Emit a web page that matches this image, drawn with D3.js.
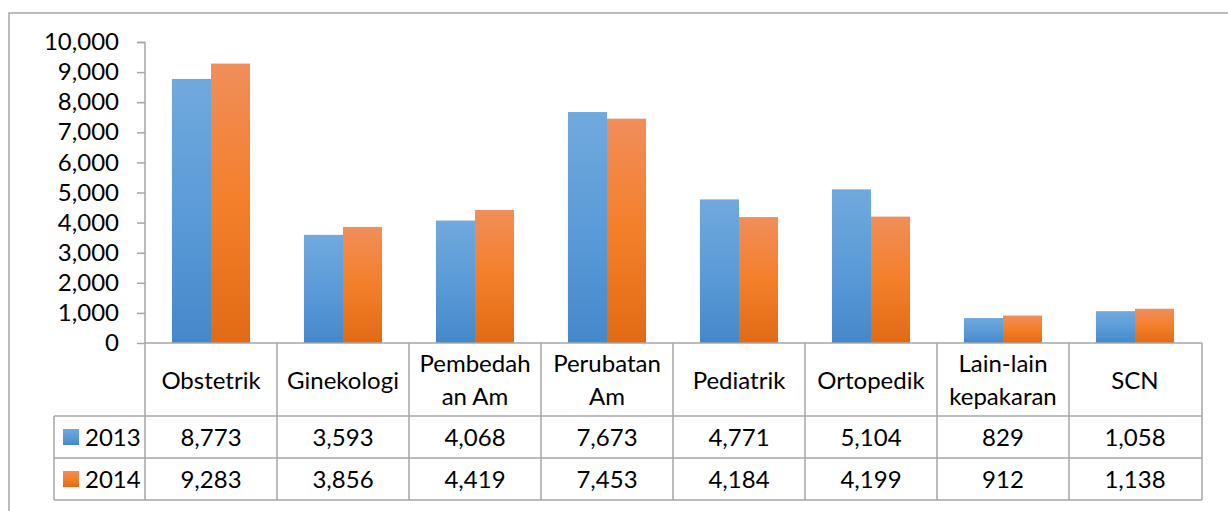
<!DOCTYPE html>
<html><head><meta charset="utf-8">
<script src="https://cdn.jsdelivr.net/npm/d3@7"></script>
<style>
html,body{margin:0;padding:0;background:#fff;}
svg{display:block;}
text{font-family:Lato,"Open Sans",sans-serif;fill:#000;}
</style></head>
<body>
<svg id="c" width="1228" height="511"></svg>
<script>
const categories = ["Obstetrik","Ginekologi","Pembedah an Am","Perubatan Am","Pediatrik","Ortopedik","Lain-lain kepakaran","SCN"];
const categoryLines = [["Obstetrik"],["Ginekologi"],["Pembedah","an Am"],["Perubatan","Am"],["Pediatrik"],["Ortopedik"],["Lain-lain","kepakaran"],["SCN"]];
const seriesNames = ["2013","2014"];
const values2013 = [8773,3593,4068,7673,4771,5104,829,1058];
const values2014 = [9283,3856,4419,7453,4184,4199,912,1138];
const yTicks = [0,1000,2000,3000,4000,5000,6000,7000,8000,9000,10000];

const svg = d3.select("#c");
const grid = "#a6a6a6";
const FS = 24;

// outer frame
svg.append("rect").attr("x",9).attr("y",13).attr("width",1240).attr("height",530)
  .attr("fill","none").attr("stroke",grid).attr("stroke-width",1.5);

const defs = svg.append("defs");
const grads = [["g2013","#71a9dd","#5b9bd8","#4588ca"],["g2014","#f08e5a","#f47f2a","#e26a14"]];
grads.forEach(([id,a,b,c])=>{
  const g = defs.append("linearGradient").attr("id",id).attr("x1",0).attr("y1",0).attr("x2",0).attr("y2",1);
  g.append("stop").attr("offset","0%").attr("stop-color",a);
  g.append("stop").attr("offset","50%").attr("stop-color",b);
  g.append("stop").attr("offset","100%").attr("stop-color",c);
});

const x = d3.scaleBand().domain(categories).range([145,1201]).paddingInner(0).paddingOuter(0);
const x1 = d3.scaleBand().domain(seriesNames).range([0,x.bandwidth()]).paddingInner(0).paddingOuter(0.69);
const y = d3.scaleLinear().domain([0,10000]).range([343,42]);

const seriesData = [values2013, values2014];

// bars
seriesNames.forEach((s,si)=>{
  svg.append("g").selectAll("rect").data(categories).join("rect")
    .attr("x",(d)=>x(d)+x1(s))
    .attr("width",x1.bandwidth())
    .attr("y",(d,i)=>y(seriesData[si][i]))
    .attr("height",(d,i)=>y(0)-y(seriesData[si][i]))
    .attr("fill",`url(#g${s})`);
});

// y axis
const yAxis = svg.append("g").attr("transform","translate(145,0)")
  .call(d3.axisLeft(y).tickValues(yTicks).tickFormat(d3.format(",")).tickSize(8).tickPadding(18));
yAxis.select(".domain").attr("stroke",grid).attr("stroke-width",1.5).attr("d","M-8,42.5H0V343");
yAxis.selectAll(".tick line").attr("stroke",grid).attr("stroke-width",1.5);
yAxis.selectAll(".tick text").style("font-size",FS+"px").style("font-family","Lato").attr("fill","#000");

// data table
const rowTop = [343,416,458,500];
const tg = svg.append("g").attr("stroke",grid).attr("stroke-width",1.5).attr("fill","none");
// horizontal lines
tg.append("line").attr("x1",145).attr("x2",1202).attr("y1",343).attr("y2",343);
tg.append("line").attr("x1",54).attr("x2",1202).attr("y1",416).attr("y2",416);
tg.append("line").attr("x1",54).attr("x2",1202).attr("y1",458).attr("y2",458);
tg.append("line").attr("x1",54).attr("x2",1202).attr("y1",500).attr("y2",500);
// vertical lines
tg.append("line").attr("x1",54).attr("x2",54).attr("y1",416).attr("y2",500);
categories.forEach(c=>{
  tg.append("line").attr("x1",x(c)).attr("x2",x(c)).attr("y1",343).attr("y2",500);
});
tg.append("line").attr("x1",1202).attr("x2",1202).attr("y1",343).attr("y2",500);

// header labels
categories.forEach((c,i)=>{
  const lines = categoryLines[i];
  const cx = x(c)+x.bandwidth()/2;
  const t = svg.append("text").attr("x",cx).attr("text-anchor","middle").style("font-size",FS+"px");
  if(lines.length===1){
    t.append("tspan").attr("x",cx).attr("y",389).text(lines[0]);
  } else {
    t.append("tspan").attr("x",cx).attr("y",372).text(lines[0]);
    t.append("tspan").attr("x",cx).attr("y",405).text(lines[1]);
  }
});

// rows
const fmt = d3.format(",");
seriesNames.forEach((s,si)=>{
  const base = si===0?446:488;
  svg.append("rect").attr("x",63).attr("y",base-17).attr("width",16).attr("height",16).attr("fill",`url(#g${s})`);
  svg.append("text").attr("x",85).attr("y",base).style("font-size",FS+"px").text(s);
  svg.append("g").selectAll("text").data(categories).join("text")
    .attr("x",d=>x(d)+x.bandwidth()/2).attr("y",base).attr("text-anchor","middle")
    .style("font-size",FS+"px").text((d,i)=>fmt(seriesData[si][i]));
});
</script>
</body></html>
